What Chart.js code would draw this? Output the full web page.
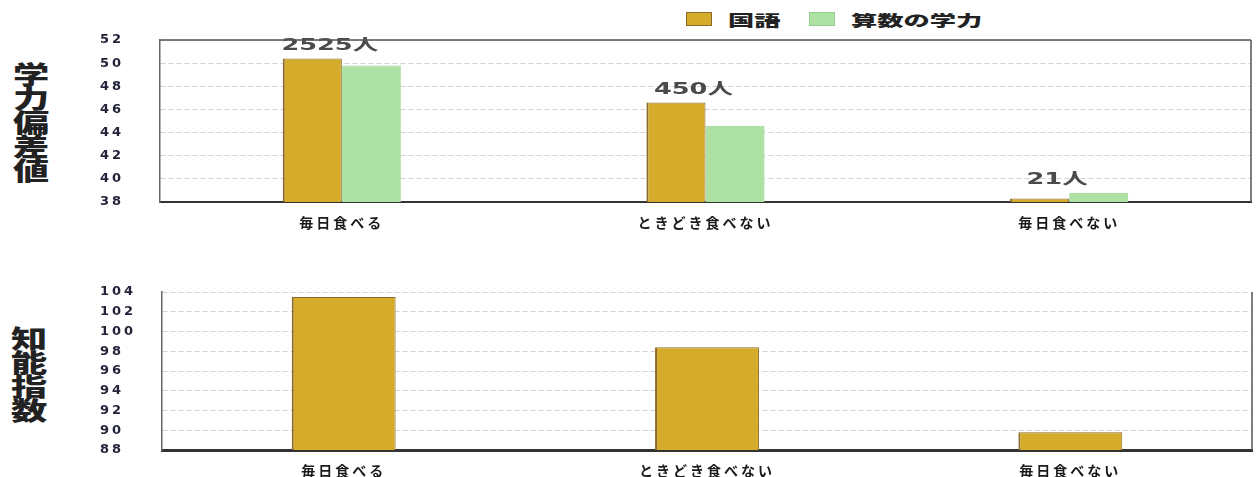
<!DOCTYPE html>
<html lang="ja">
<head>
<meta charset="utf-8">
<title>朝食と学力・知能指数</title>
<script src="https://cdn.jsdelivr.net/npm/chart.js@4.4.1/dist/chart.umd.min.js"></script>
<style>
    body { margin: 0; background: #fff; }
    #page { position: relative; width: 1256px; height: 477px; overflow: hidden;
            font-family: "Noto Sans CJK JP", "DejaVu Sans", sans-serif; color: #222; }
    canvas { position: absolute; left: 0; }
    #scoreChart { top: 0; }
    #iqChart { top: 230px; }
    .vtitle { position: absolute; font-size: 25px; font-weight: 900; line-height: 24px;
              width: 26px; transform: scaleX(1.45); transform-origin: left top; }
    .legend-box { position: absolute; width: 26px; height: 14px; top: 12px; box-sizing: border-box; }
    .legend-text { position: absolute; top: 9px; font-size: 15px; font-weight: 900;
                   transform: scaleX(1.75); transform-origin: left top; white-space: nowrap; }
</style>
</head>
<body>
<div id="page">
    <div class="vtitle" style="left:13px; top:61px;">学<br>力<br>偏<br>差<br>値</div>
    <div class="vtitle" style="left:11px; top:325px;">知<br>能<br>指<br>数</div>
    <div id="legend"></div>
    <canvas id="scoreChart" width="1256" height="230"></canvas>
    <canvas id="iqChart" width="1256" height="247"></canvas>
</div>
<script>
// Categories (breakfast habit)
const categories = ['毎日食べる', 'ときどき食べない', '毎日食べない'];

// 学力偏差値
const kokugoScores = [50.4, 46.6, 38.3];
const sansuScores = [49.8, 44.6, 38.8];
const headcounts = ['2525人', '450人', '21人'];
const scoreMin = 38;
const scoreMax = 52;

// 知能指数
const iqScores = [103.5, 98.4, 89.8];
const iqMin = 88;
const iqMax = 104;

const seriesNames = ['国語', '算数の学力'];

const GOLD = '#d5ab2b';
const GOLD_EDGE = '#8a6a2a';
const GREEN = '#aee2a4';
const GREEN_EDGE = '#93cf8c';

// Wider lettering like the scanned original
const spacingPlugin = {
    id: 'spacing',
    beforeDraw(chart) {
        chart.ctx.letterSpacing = '3px';
    }
};

// Box lines that the axes don't draw
const framePlugin = {
    id: 'frame',
    afterDraw(chart, args, opts) {
        const { ctx, chartArea: a } = chart;
        ctx.save();
        ctx.strokeStyle = opts.color;
        ctx.lineWidth = opts.width;
        ctx.beginPath();
        if (opts.top) {
            ctx.moveTo(a.left, a.top);
            ctx.lineTo(a.right, a.top);
        }
        ctx.moveTo(a.right, a.top);
        ctx.lineTo(a.right, a.bottom);
        ctx.stroke();
        ctx.restore();
    }
};

// Headcount labels above each group
const countPlugin = {
    id: 'counts',
    afterDatasetsDraw(chart, args, opts) {
        if (!opts.labels) return;
        const { ctx } = chart;
        ctx.save();
        ctx.letterSpacing = '0px';
        ctx.font = 'bold 16px "DejaVu Sans", "Noto Sans CJK JP", sans-serif';
        ctx.fillStyle = '#4a4a4a';
        ctx.textAlign = 'center';
        ctx.textBaseline = 'bottom';
        opts.labels.forEach((text, i) => {
            const x = chart.scales.x.getPixelForValue(i);
            let top = Infinity;
            chart.data.datasets.forEach((ds, d) => {
                top = Math.min(top, chart.getDatasetMeta(d).data[i].y);
            });
            ctx.save();
            ctx.translate(x - 12, top - 5);
            ctx.scale(1.6, 1);
            ctx.fillText(text, 0, 0);
            ctx.restore();
        });
        ctx.restore();
    }
};

function makeOptions(cfg) {
    return {
        responsive: false,
        animation: false,
        layout: { padding: { left: 100, right: cfg.right, top: cfg.top, bottom: 0 } },
        plugins: {
            legend: { display: false },
            tooltip: { enabled: false },
            frame: { color: '#555', width: 1.5, top: cfg.frameTop },
            counts: { labels: cfg.counts }
        },
        scales: {
            x: {
                grid: { display: false },
                border: { display: true, color: '#333', width: cfg.xBorder },
                ticks: {
                    color: '#1a1a1a',
                    padding: 4,
                    font: { family: '"Noto Sans CJK JP", sans-serif', size: 14, weight: 'bold' }
                },
                afterFit(axis) { axis.height = cfg.xHeight; }
            },
            y: {
                min: cfg.min,
                max: cfg.max,
                grid: { color: 'rgba(140,140,140,0.4)', drawTicks: false, lineWidth: 1 },
                border: { display: true, color: '#666', width: 1.5, dash: [5, 3] },
                ticks: {
                    stepSize: 2,
                    color: '#23233a',
                    padding: 2,
                    crossAlign: 'far',
                    font: { family: '"DejaVu Sans", sans-serif', size: 13, weight: 'bold' }
                },
                afterFit(axis) { axis.width = cfg.yWidth; }
            }
        }
    };
}

const scoreChart = new Chart(document.getElementById('scoreChart'), {
    type: 'bar',
    data: {
        labels: categories,
        datasets: [
            {
                label: seriesNames[0],
                data: kokugoScores,
                backgroundColor: GOLD,
                borderColor: GOLD_EDGE,
                borderWidth: { left: 2, top: 1, right: 1, bottom: 0 },
                categoryPercentage: 0.325,
                barPercentage: 1
            },
            {
                label: seriesNames[1],
                data: sansuScores,
                backgroundColor: GREEN,
                borderColor: GREEN_EDGE,
                borderWidth: { left: 0, top: 1, right: 0, bottom: 0 },
                categoryPercentage: 0.325,
                barPercentage: 1
            }
        ]
    },
    options: makeOptions({
        right: 5, top: 40, min: scoreMin, max: scoreMax, yWidth: 60,
        xHeight: 28, xBorder: 2, frameTop: true, counts: headcounts
    }),
    plugins: [spacingPlugin, framePlugin, countPlugin]
});

const iqChart = new Chart(document.getElementById('iqChart'), {
    type: 'bar',
    data: {
        labels: categories,
        datasets: [{
            label: '知能指数',
            data: iqScores,
            backgroundColor: GOLD,
            borderColor: GOLD_EDGE,
            borderWidth: { left: 2, top: 1, right: 1, bottom: 0 },
            categoryPercentage: 0.286,
            barPercentage: 1
        }]
    },
    options: makeOptions({
        right: 4, top: 62, min: iqMin, max: iqMax, yWidth: 62,
        xHeight: 27, xBorder: 3, frameTop: false, counts: null
    }),
    plugins: [spacingPlugin, framePlugin, countPlugin]
});

// Legend for the upper chart, built from its datasets
const legendSpots = [{ box: 686, text: 728 }, { box: 809, text: 851 }];
const legendEl = document.getElementById('legend');
scoreChart.data.datasets.forEach((ds, i) => {
    const box = document.createElement('div');
    box.className = 'legend-box';
    box.style.left = legendSpots[i].box + 'px';
    box.style.background = ds.backgroundColor;
    box.style.border = '1px solid ' + ds.borderColor;
    legendEl.appendChild(box);
    const text = document.createElement('div');
    text.className = 'legend-text';
    text.style.left = legendSpots[i].text + 'px';
    text.textContent = ds.label;
    legendEl.appendChild(text);
});
</script>
</body>
</html>
